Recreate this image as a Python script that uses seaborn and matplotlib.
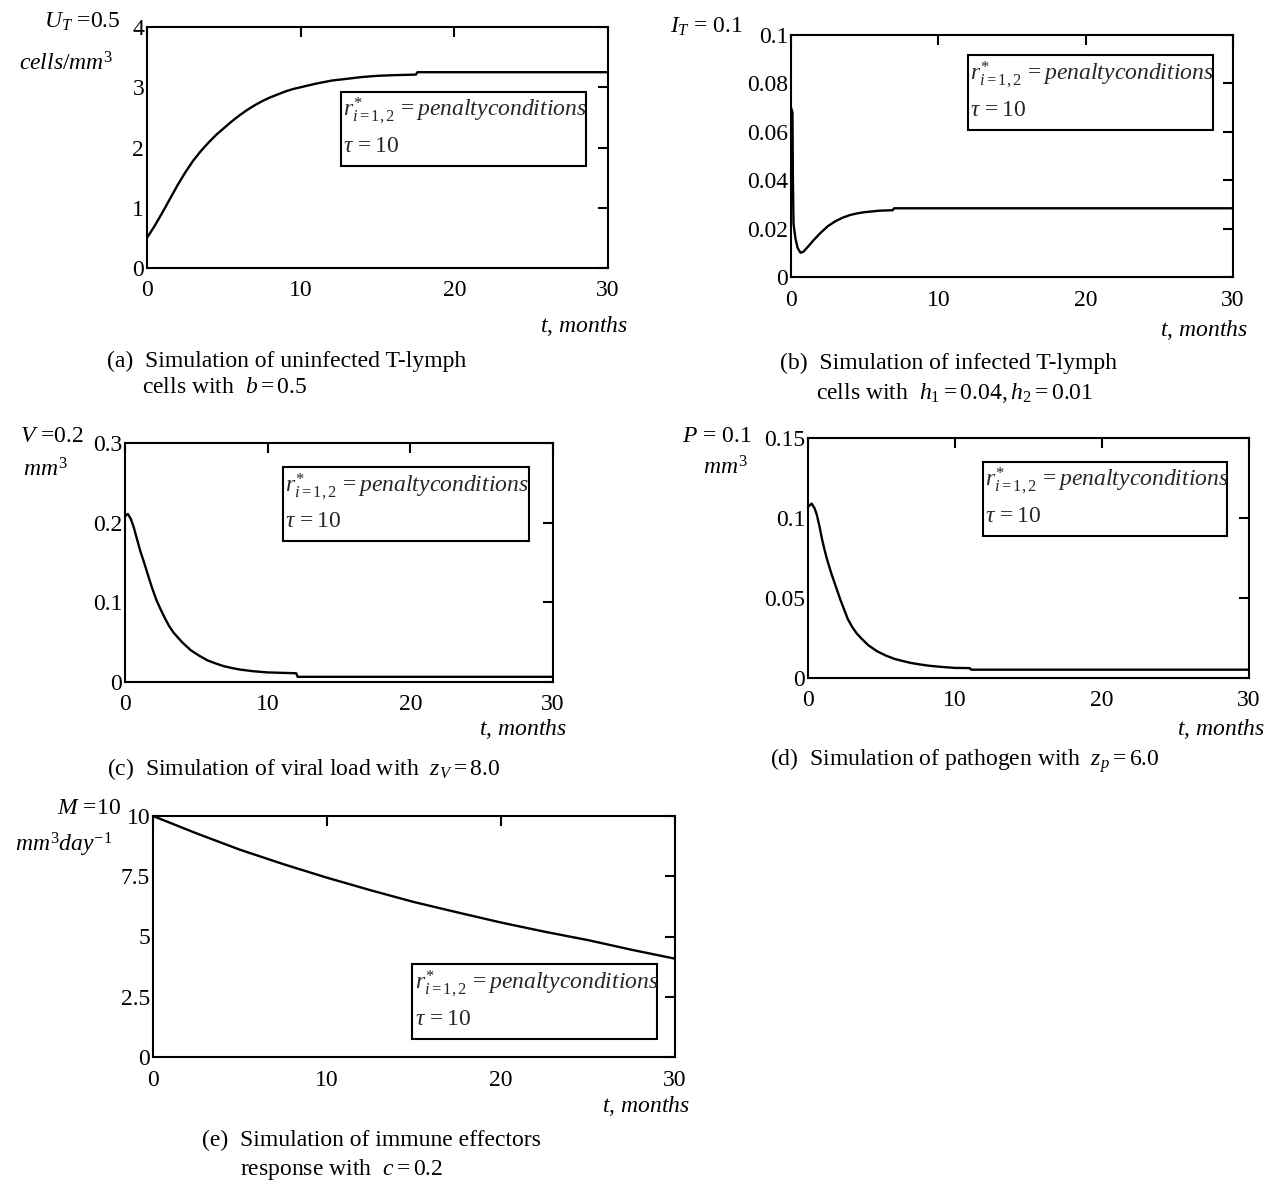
import matplotlib
matplotlib.use("Agg")
import matplotlib.pyplot as plt
import seaborn as sns
import pandas as pd
from matplotlib.patches import Rectangle

# ---------------- data ----------------
t_U = [0, 0.5, 1, 1.5, 2, 2.5, 3, 3.5, 4, 4.5, 5, 5.5, 6, 6.5, 7, 7.5, 8, 8.5, 9, 9.5,
       10, 11, 12, 13, 14, 15, 16, 17.5, 17.6, 20, 25, 30]
U = [0.5, 0.70, 0.92, 1.15, 1.38, 1.59, 1.78, 1.94, 2.08, 2.21, 2.32, 2.43, 2.53, 2.62, 2.70, 2.77,
     2.83, 2.88, 2.93, 2.97, 3.0, 3.06, 3.11, 3.14, 3.17, 3.19, 3.20, 3.21, 3.25, 3.25, 3.25, 3.25]

t_I = [0, 0.1, 0.13, 0.17, 0.3, 0.45, 0.65, 0.85, 1.0, 1.25, 1.5, 1.75, 2, 2.5, 3, 3.5, 4, 4.5,
       5, 6, 6.9, 7.0, 10, 20, 30]
I = [0.070, 0.068, 0.040, 0.022, 0.016, 0.012, 0.0100, 0.0105, 0.0115, 0.0132, 0.0150, 0.0166,
     0.0182, 0.0210, 0.0230, 0.0245, 0.0256, 0.0263, 0.0268, 0.0274, 0.0276, 0.0284, 0.0284,
     0.0284, 0.0284]

t_V = [0, 0.2, 0.4, 0.6, 0.8, 1.06, 1.3, 1.65, 1.9, 2.2, 2.5, 2.8, 3.1, 3.4, 4.0, 4.6, 5.2, 5.8,
       6.4, 6.9, 7.5, 8.1, 9, 10, 11, 12.0, 12.1, 20, 30]
V = [0.208, 0.211, 0.205, 0.195, 0.182, 0.165, 0.152, 0.132, 0.118, 0.103, 0.091, 0.080, 0.070,
     0.062, 0.050, 0.040, 0.033, 0.027, 0.023, 0.020, 0.0175, 0.0155, 0.0135, 0.012, 0.0115,
     0.011, 0.0065, 0.0065, 0.0065]

t_P = [0, 0.25, 0.45, 0.6, 0.8, 0.96, 1.13, 1.3, 1.6, 1.9, 2.2, 2.45, 2.7, 3.0, 3.3, 3.6, 4.1,
       4.7, 5.3, 5.9, 6.5, 7.0, 7.6, 8.2, 9, 10, 11.0, 11.1, 20, 30]
P = [0.107, 0.109, 0.106, 0.102, 0.094, 0.0865, 0.080, 0.074, 0.065, 0.057, 0.049, 0.043, 0.037,
     0.032, 0.028, 0.025, 0.0205, 0.0167, 0.014, 0.0119, 0.0105, 0.0094, 0.0085, 0.0077, 0.0070,
     0.0063, 0.0062, 0.0052, 0.0052, 0.0052]

t_M = [0, 2.5, 5, 7.5, 10, 12.5, 15, 17.5, 20, 22.5, 25, 27.5, 30]
M = [10, 9.28, 8.6, 8.0, 7.44, 6.92, 6.43, 6.0, 5.58, 5.2, 4.85, 4.45, 4.08]

x_ticks = [0, 10, 20, 30]
x_ticklabels = ["0", "10", "20", "30"]
yticks_a = [0, 1, 2, 3, 4];                 ylab_a = ["0", "1", "2", "3", "4"]
yticks_b = [0, 0.02, 0.04, 0.06, 0.08, 0.1]; ylab_b = ["0", "0.02", "0.04", "0.06", "0.08", "0.1"]
yticks_c = [0, 0.1, 0.2, 0.3];               ylab_c = ["0", "0.1", "0.2", "0.3"]
yticks_d = [0, 0.05, 0.1, 0.15];             ylab_d = ["0", "0.05", "0.1", "0.15"]
yticks_e = [0, 2.5, 5, 7.5, 10];             ylab_e = ["0", "2.5", "5", "7.5", "10"]

box_line1 = r"$r^{*}_{i=1,2}\, = penaltyconditions$"
box_line2 = r"$\tau\, =10$"
xlabel_text = r"$t$, $months$"

# ---------------- style ----------------
sns.set_theme(style="white")
plt.rcParams["font.family"] = ["Liberation Serif", "DejaVu Serif"]
plt.rcParams["mathtext.fontset"] = "custom"
plt.rcParams["mathtext.rm"] = "Liberation Serif"
plt.rcParams["mathtext.it"] = "Liberation Serif:italic"
plt.rcParams["mathtext.bf"] = "Liberation Serif:bold"

W, H = 1277, 1184
fig = plt.figure(figsize=(W / 100, H / 100), dpi=100)
fig.patch.set_facecolor("white")
FS = 17


def make_ax(x0, y0, x1, y1):
    return fig.add_axes([x0 / W, 1 - y1 / H, (x1 - x0) / W, (y1 - y0) / H])


def ftext(x, y, s, ha="left", va="center", fs=FS, **kw):
    fig.text(x / W, 1 - y / H, s, ha=ha, va=va, fontsize=fs, color="black", **kw)


def panel(ax, t, y, ylim, yt, ytl, box):
    df = pd.DataFrame({"t": t, "v": y})
    sns.lineplot(data=df, x="t", y="v", ax=ax, color="black", lw=1.7,
                 estimator=None, sort=False)
    ax.set_xlim(0, 30)
    ax.set_ylim(*ylim)
    ax.set_xticks(x_ticks)
    ax.set_xticklabels(x_ticklabels)
    ax.set_yticks(yt)
    ax.set_yticklabels(ytl)
    ax.set_xlabel("")
    ax.set_ylabel("")
    for s in ax.spines.values():
        s.set_visible(True)
        s.set_linewidth(1.5)
        s.set_color("black")
    ax.tick_params(direction="in", length=7.5, width=1.5, color="black",
                   top=True, right=True, labelsize=FS, labelcolor="black")
    ax.tick_params(axis="x", pad=9)
    ax.tick_params(axis="y", pad=2)
    bx0, by0, bx1, by1 = box
    ax.add_patch(Rectangle((bx0, by0), bx1 - bx0, by1 - by0, transform=ax.transAxes,
                           fill=True, facecolor="white", edgecolor="black", lw=1.5, zorder=5))
    hgt = by1 - by0
    ax.text(bx0 + 0.005, by1 - 0.26 * hgt, box_line1, transform=ax.transAxes,
            ha="left", va="center", fontsize=FS, zorder=6)
    ax.text(bx0 + 0.005, by1 - 0.74 * hgt, box_line2, transform=ax.transAxes,
            ha="left", va="center", fontsize=FS, zorder=6)


# (a)
ax_a = make_ax(147, 27, 608, 268)
panel(ax_a, t_U, U, (0, 4), yticks_a, ylab_a, (0.42, 0.423, 0.953, 0.732))
ftext(121, 22, r"$U_T$ =0.5", ha="right")
ftext(113, 64, r"$cells/mm^3$", ha="right")
ftext(628, 326, xlabel_text, ha="right")
ftext(107, 361, "(a)  Simulation of uninfected T-lymph")
ftext(142, 388, r"cells with  $b = 0.5$")

# (b)
ax_b = make_ax(791, 35, 1233, 277)
panel(ax_b, t_I, I, (0, 0.1), yticks_b, ylab_b, (0.40, 0.608, 0.954, 0.917))
ftext(743, 27, r"$I_T$ = 0.1", ha="right")
ftext(1248, 330, xlabel_text, ha="right")
ftext(780, 363, "(b)  Simulation of infected T-lymph")
ftext(816, 393, r"cells with  $h_1 = 0.04, h_2 = 0.01$")

# (c)
ax_c = make_ax(125, 443, 553, 682)
panel(ax_c, t_V, V, (0, 0.3), yticks_c, ylab_c, (0.368, 0.59, 0.943, 0.90))
ftext(84, 437, r"$V$ =0.2", ha="right")
ftext(68, 470, r"$mm^3$", ha="right")
ftext(567, 729, xlabel_text, ha="right")
ftext(107, 769, r"(c)  Simulation of viral load with  $z_V = 8.0$")

# (d)
ax_d = make_ax(808, 438, 1249, 678)
panel(ax_d, t_P, P, (0, 0.15), yticks_d, ylab_d, (0.396, 0.59, 0.951, 0.902))
ftext(752, 436, r"$P$ = 0.1", ha="right")
ftext(748, 468, r"$mm^3$", ha="right")
ftext(1265, 729, xlabel_text, ha="right")
ftext(770, 761, r"(d)  Simulation of pathogen with  $z_p = 6.0$")

# (e)
ax_e = make_ax(153, 816, 675, 1057)
panel(ax_e, t_M, M, (0, 10), yticks_e, ylab_e, (0.497, 0.075, 0.966, 0.386))
ftext(121, 808, r"$M$ =10", ha="right")
ftext(112, 845, r"$mm^3day^{-1}$", ha="right")
ftext(690, 1106, xlabel_text, ha="right")
ftext(202, 1140, "(e)  Simulation of immune effectors")
ftext(240, 1169, r"response with  $c = 0.2$")

fig.savefig("out.png", dpi=100, facecolor="white")
